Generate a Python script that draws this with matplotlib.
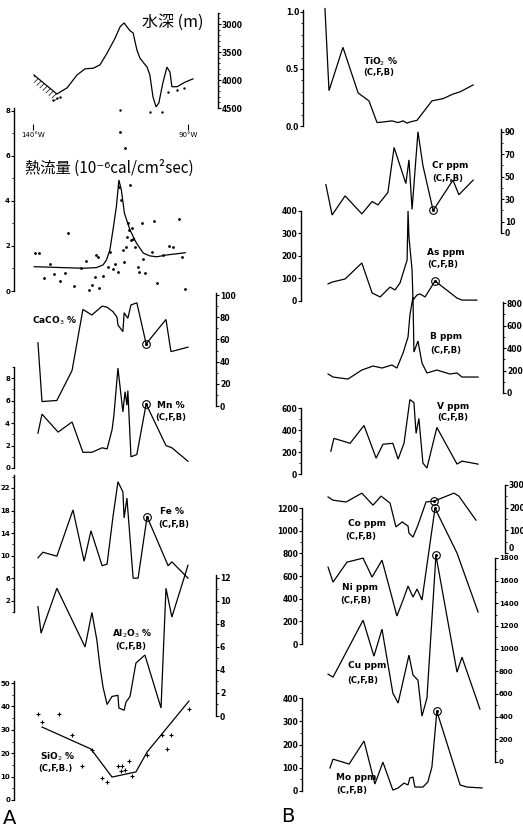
import matplotlib
matplotlib.use("Agg")
import matplotlib.pyplot as plt
from matplotlib.ticker import FixedLocator

plt.rcParams["font.family"] = ["DejaVu Sans"]
plt.rcParams["hatch.linewidth"] = 0.5

# ---- left column (A) : longitude in degrees W ----
depth_lon = [139.7, 132.3, 129.0, 125.8, 123.2, 120.6, 118.4, 116.1, 113.5, 111.9, 110.6, 109.7, 108.7, 107.7,
             106.5, 105.5, 103.2, 102.3, 101.3, 100.3, 99.4, 98.1, 96.8, 95.8, 95.2, 93.5, 91.0, 88.4]
depth_m = [3910, 4250, 4140, 3910, 3800, 3790, 3730, 3520, 3250, 3050, 2980, 3050, 3120, 3160,
           3460, 3610, 3770, 3910, 4300, 4480, 4410, 4050, 3770, 3860, 4120, 4120, 4040, 3980]
sound_lon = [133.5, 132.3, 131.3, 111.9, 102.3, 98.5, 96.4, 93.5, 91.3]
sound_m = [4360, 4320, 4300, 4540, 4570, 4570, 4210, 4180, 4140]

hf_curve_lon = [139.6, 123.8, 119.5, 117.4, 116.3, 115.2, 114.2, 113.1, 112.3, 111.5, 110.5, 108.7,
                106.6, 104.4, 102.3, 100.1, 96.9, 90.9]
hf_curve = [1.08, 1.01, 1.04, 1.16, 1.38, 1.82, 2.71, 3.75, 4.93, 4.49, 3.45, 2.71,
            2.12, 1.68, 1.56, 1.52, 1.60, 1.70]
hf_obs_lon = [139.4, 138.0, 136.4, 134.5, 133.2, 131.3, 129.7, 128.6, 126.7, 124.5, 122.9, 121.8, 121.1,
              120.0, 119.7, 119.1, 118.6, 117.5, 115.9, 115.2, 114.3, 113.5, 112.5, 112.2, 111.7, 110.9,
              110.6, 110.3, 110.0, 109.7, 109.3, 108.9, 108.7, 108.5, 108.2, 107.6, 107.1, 106.0, 105.7,
              104.9, 104.4, 103.9, 101.7, 100.9, 100.1, 98.0, 96.0, 94.7, 92.8, 92.0, 90.9, 111.9]
hf_obs = [1.68, 1.70, 0.59, 1.19, 0.74, 0.46, 0.81, 2.59, 0.22, 1.04, 1.35, 0.04, 0.27,
          0.64, 1.60, 1.50, 0.15, 0.68, 1.05, 1.75, 0.96, 1.19, 0.83, 4.64, 4.04, 1.82,
          1.30, 6.34, 1.97, 2.41, 3.01, 2.71, 4.71, 2.27, 2.79, 2.30, 1.97, 1.08, 0.86,
          3.01, 1.41, 0.79, 1.75, 3.11, 0.34, 1.60, 2.00, 1.97, 3.19, 1.52, 0.08, 7.08]

caco3_lon = [138.4, 137.1, 132.3, 127.4, 123.9, 121.0, 117.7, 116.1, 114.2, 112.9, 112.6, 111.0, 110.6,
             109.4, 108.4, 106.5, 103.5, 97.1, 95.5, 90.0]
caco3 = [57, 4, 5, 32, 87, 82, 90, 89, 85, 80, 73, 67, 84, 79, 91, 93, 56, 78, 49, 53]

mn_lon = [138.4, 137.1, 131.9, 127.4, 123.9, 121.0, 117.7, 116.1, 114.5, 113.9, 112.6, 111.0, 110.3,
          109.7, 109.4, 108.4, 106.5, 103.5, 97.1, 95.2, 90.0]
mn = [3.1, 4.8, 3.2, 4.1, 1.4, 1.4, 1.8, 1.7, 3.4, 4.7, 8.9, 5.0, 6.8, 5.6, 6.9, 1.0, 1.2, 5.7, 2.0, 1.8, 0.6]

fe_lon = [138.4, 136.8, 132.3, 127.1, 123.5, 121.3, 117.7, 116.1, 114.2, 112.6, 111.0, 110.6, 109.7,
          107.7, 106.1, 103.2, 96.4, 95.2, 90.0]
fe = [9.6, 10.6, 9.9, 18.1, 9.0, 14.4, 8.2, 8.5, 16.9, 23.1, 21.3, 16.7, 20.2, 6.0, 6.0, 16.9, 8.2, 8.9, 6.0]

al_lon = [138.4, 137.4, 132.3, 123.2, 121.0, 119.4, 118.4, 117.4, 116.1, 114.5, 112.6, 112.3, 110.6,
          110.0, 108.7, 106.8, 103.9, 98.7, 97.1, 95.2, 90.0]
al2o3 = [9.5, 7.2, 11.1, 6.0, 9.0, 6.6, 4.3, 2.5, 1.0, 1.7, 1.8, 0.7, 0.5, 1.2, 1.7, 4.6, 5.3, 0.7, 11.1, 8.6, 13.1]

sio2_trend_lon = [137.1, 121.3, 114.5, 106.8, 103.2, 89.7]
sio2_trend = [31.2, 21.8, 9.8, 12.0, 20.5, 42.3]
sio2_obs_lon = [138.4, 137.1, 131.6, 127.4, 124.2, 121.0, 117.7, 116.1, 112.6, 111.6, 111.3, 110.3,
                109.0, 108.1, 103.2, 98.4, 96.8, 95.5, 89.7]
sio2_obs = [36.8, 33.3, 36.8, 27.8, 14.5, 21.4, 9.4, 7.7, 14.5, 12.4, 14.5, 12.8, 16.7, 10.3, 19.2,
            27.8, 21.8, 27.8, 38.9]

# ---- right column (B) ----
tio2_lon = [138.4, 137.1, 132.6, 127.7, 124.2, 121.6, 119.7, 116.8, 114.8, 113.2, 111.9, 111.0, 108.7,
            103.9, 100.3, 97.1, 94.8, 90.6]
tio2 = [1.03, 0.31, 0.69, 0.29, 0.22, 0.03, 0.035, 0.045, 0.03, 0.045, 0.025, 0.035, 0.05, 0.22, 0.24,
        0.28, 0.30, 0.36]

cr_lon = [138.1, 136.1, 131.9, 126.5, 123.2, 121.3, 118.1, 116.1, 112.3, 111.3, 110.3, 108.4, 106.8,
          103.5, 97.1, 95.2, 90.6]
cr = [43, 16, 33, 17, 28, 25, 36, 76, 44, 65, 21, 90, 60, 20, 47, 34, 47]

as_lon = [137.4, 136.1, 131.9, 126.5, 123.2, 120.6, 117.4, 115.8, 114.2, 112.9, 111.9, 111.6, 111.3,
          110.3, 110.0, 108.7, 107.7, 106.1, 102.9, 95.8, 94.2, 89.4]
as_ppm = [76, 84, 98, 169, 36, 18, 62, 49, 80, 138, 182, 400, 284, 138, 4, 27, 31, 18, 89, 13, 4, 4]

b_lon = [137.4, 135.8, 131.0, 126.5, 122.9, 120.0, 116.8, 115.2, 113.2, 111.6, 111.0, 110.0, 109.7,
         108.4, 107.1, 105.5, 102.3, 98.1, 95.8, 94.2, 89.0]
b_ppm = [169, 142, 124, 204, 240, 222, 249, 222, 356, 498, 693, 853, 364, 462, 267, 178, 204, 169, 178,
         142, 142]

v_lon = [136.5, 135.5, 130.3, 125.8, 121.9, 119.7, 116.5, 114.8, 112.9, 111.0, 109.7, 109.0, 108.1,
         106.8, 105.5, 102.3, 95.8, 94.2, 89.0]
v_ppm = [207, 324, 279, 441, 144, 270, 279, 135, 279, 676, 649, 369, 505, 99, 54, 423, 90, 117, 90]

co_lon = [137.4, 135.8, 131.6, 126.5, 122.9, 120.3, 117.4, 115.5, 113.5, 111.6, 111.3, 110.0, 108.4,
          105.8, 103.2, 96.8, 95.2, 89.7]
co_ppm = [247, 233, 225, 264, 211, 251, 220, 115, 137, 119, 88, 70, 123, 225, 229, 264, 251, 145]

ni_lon = [137.4, 135.8, 131.3, 126.1, 123.2, 120.0, 116.8, 115.2, 113.2, 111.6, 110.0, 108.7, 107.1,
          102.9, 95.8, 89.0]
ni_ppm = [678, 546, 722, 758, 590, 740, 414, 247, 388, 511, 414, 485, 388, 1198, 802, 282]

cu_lon = [137.4, 135.8, 126.1, 122.6, 120.0, 116.5, 114.8, 111.3, 110.0, 108.4, 107.1, 105.5, 102.6,
          95.8, 94.2, 88.4]
cu_ppm = [775, 749, 1251, 934, 1172, 608, 520, 943, 767, 722, 405, 564, 1824, 793, 925, 467]

mo_lon = [136.8, 135.8, 130.6, 125.8, 122.3, 119.7, 116.5, 114.8, 112.9, 111.6, 111.0, 110.0, 109.4,
          106.8, 105.2, 103.9, 102.3, 94.8, 92.6, 87.7]
mo_ppm = [99, 137, 116, 215, 30, 124, 4, 13, 34, 26, 56, 60, 17, 17, 39, 103, 343, 26, 17, 13]

FIG_W, FIG_H = 523, 826
fig = plt.figure(figsize=(FIG_W / 100, FIG_H / 100), dpi=100)


def lon_at(px, col):
    origin = 33 if col == 0 else 320
    return 140 - (px - origin) * 0.3226


def panel(col, x0, x1, ytop, ybot, ylim, side, major, minor=None, fmt=None, size=5.5):
    ax = fig.add_axes([x0 / FIG_W, 1 - ybot / FIG_H, (x1 - x0) / FIG_W, (ybot - ytop) / FIG_H])
    ax.set_xlim(lon_at(x0, col), lon_at(x1, col))
    ax.set_ylim(*ylim)
    ax.patch.set_visible(False)
    for s in ["top", "bottom", "left", "right"]:
        ax.spines[s].set_visible(s == side)
    ax.spines[side].set_linewidth(1.0)
    ax.set_xticks([])
    ax.yaxis.set_ticks_position(side)
    ax.yaxis.set_major_locator(FixedLocator(major))
    if minor is not None:
        ax.yaxis.set_minor_locator(FixedLocator(minor))
    if fmt is not None:
        ax.set_yticklabels(fmt)
    ax.tick_params(axis="y", which="major", length=2.0, width=0.8, labelsize=size, pad=0.8)
    ax.tick_params(axis="y", which="minor", length=1.4, width=0.6)
    for lbl in ax.get_yticklabels():
        lbl.set_fontweight("bold")
    return ax


def line(ax, x, y):
    ax.plot(x, y, color="black", lw=0.9, clip_on=False, solid_joinstyle="miter")


def ring(ax, x, y):
    ax.plot(x, y, marker="o", ms=5.5, mfc="none", mec="black", mew=0.8, clip_on=False)
    ax.plot(x, y, marker="o", ms=1.2, color="black", clip_on=False)


def ftext(x, y, s, **kw):
    fig.text(x / FIG_W, 1 - y / FIG_H, s, va="center", **kw)


def rng(a, b, step):
    out = []
    v = a
    while v <= b + 1e-9:
        out.append(round(v, 4))
        v += step
    return out


# water depth
ax = panel(0, 30, 218, 12.8, 108, (4500, 2800), "right", [3000, 3500, 4000, 4500], rng(2800, 4500, 100))
line(ax, depth_lon, depth_m)
ax.fill_between(depth_lon[:2], depth_m[:2], [m + 150 for m in depth_m[:2]], facecolor="none",
                edgecolor="black", hatch="//////", lw=0)
ax.plot(sound_lon, sound_m, ".", ms=1.5, color="black", clip_on=False)
ax.spines["bottom"].set_position(("outward", 16))
ax.set_xticks([140, 90])
ax.set_xticklabels(["140°W", "90°W"])
ax.tick_params(axis="x", direction="in", length=4, width=0.8, labelsize=5, pad=1)

# heat flow
ax = panel(0, 14, 200, 108, 291, (0, 8.13), "left", [0, 2, 4, 6, 8], rng(0, 8, 1), size=5)
line(ax, hf_curve_lon, hf_curve)
ax.plot(hf_obs_lon, hf_obs, ".", ms=2, color="black", clip_on=False)

ax = panel(0, 30, 216, 292.8, 406, (0, 102), "right", rng(0, 100, 20), rng(0, 100, 10))
line(ax, caco3_lon, caco3)
ring(ax, caco3_lon[16], caco3[16])

ax = panel(0, 14, 200, 367, 468, (0, 9), "left", [0, 2, 4, 6, 8], rng(0, 9, 1), size=5)
line(ax, mn_lon, mn)
ring(ax, mn_lon[17], mn[17])

ax = panel(0, 14, 200, 475, 612, (0, 24.3), "left", [2, 6, 10, 14, 18, 22], rng(0, 24, 4), size=5)
line(ax, fe_lon, fe)
ring(ax, fe_lon[15], fe[15])

ax = panel(0, 30, 216, 574.5, 716, (0, 12.3), "right", rng(0, 12, 2), rng(0, 12, 1))
line(ax, al_lon, al2o3)

ax = panel(0, 14, 200, 680.7, 800, (0, 51), "left", rng(0, 50, 10), rng(0, 50, 5), size=5)
line(ax, sio2_trend_lon, sio2_trend)
ax.plot(sio2_obs_lon, sio2_obs, "+", ms=3, mew=0.8, color="black", clip_on=False)

# right column
ax = panel(1, 303, 490, 9.7, 126, (0, 1.02), "left", [0, 0.5, 1.0], rng(0, 1.0, 0.1), ["0.0", "0.5", "1.0"])
line(ax, tio2_lon, tio2)

ax = panel(1, 310, 501, 129.5, 233, (0, 92), "right", [0, 10, 30, 50, 70, 90], [20, 40, 60, 80])
line(ax, cr_lon, cr)
ring(ax, cr_lon[13], cr[13])

ax = panel(1, 301, 490, 211, 301, (0, 400), "left", rng(0, 400, 100))
line(ax, as_lon, as_ppm)
ring(ax, as_lon[18], as_ppm[18])

ax = panel(1, 310, 503, 301.9, 393, (0, 810), "right", rng(0, 800, 200), rng(0, 800, 100))
line(ax, b_lon, b_ppm)

ax = panel(1, 301, 490, 408, 474, (0, 600), "left", rng(0, 600, 200), rng(0, 600, 100))
line(ax, v_lon, v_ppm)

ax = panel(1, 310, 505, 485, 553, (0, 300), "right", rng(0, 300, 100), rng(0, 300, 50))
line(ax, co_lon, co_ppm)
ring(ax, co_lon[14], co_ppm[14])
ax.get_yticklabels()[0].set_va("bottom")

ax = panel(1, 302, 490, 508, 644, (0, 1200), "left", rng(0, 1200, 200), rng(0, 1200, 100))
line(ax, ni_lon, ni_ppm)
ring(ax, ni_lon[13], ni_ppm[13])

ax = panel(1, 310, 495, 558, 762, (0, 1800), "right", rng(0, 1800, 200), rng(0, 1800, 100), size=5)
line(ax, cu_lon, cu_ppm)
ring(ax, cu_lon[12], cu_ppm[12])

ax = panel(1, 302, 490, 698, 791, (0, 400), "left", rng(0, 400, 100), rng(0, 400, 50))
line(ax, mo_lon, mo_ppm)
ring(ax, mo_lon[16], mo_ppm[16])

# labels
cjk = ["Noto Sans CJK JP", "DejaVu Sans"]
ftext(142, 22, "水深 (m)", family=cjk, fontsize=11.5)
ftext(25, 168, "熱流量 (10⁻⁶cal/cm²sec)", family=cjk, fontsize=11)

lab = dict(fontsize=6.5, fontweight="bold")
sub = dict(fontsize=6, fontweight="bold")
ftext(32, 321, "CaCO$_3$ %", **lab)
ftext(157, 405, "Mn %", **lab)
ftext(155, 417, "(C,F,B)", **sub)
ftext(160, 512, "Fe %", **lab)
ftext(158, 524, "(C,F,B)", **sub)
ftext(112, 634, "Al$_2$O$_3$ %", **lab)
ftext(115, 646, "(C,F,B)", **sub)
ftext(40, 757, "SiO$_2$ %", **lab)
ftext(38, 768, "(C,F,B.)", **sub)

ftext(363, 62, "TiO$_2$ %", **lab)
ftext(363, 73, "(C,F,B)", **sub)
ftext(432, 165, "Cr ppm", **lab)
ftext(432, 178, "(C,F,B)", **sub)
ftext(427, 252, "As ppm", **lab)
ftext(427, 265, "(C,F,B)", **sub)
ftext(430, 337, "B ppm", **lab)
ftext(430, 350, "(C,F,B)", **sub)
ftext(437, 407, "V ppm", **lab)
ftext(437, 418, "(C,F,B)", **sub)
ftext(348, 523, "Co ppm", **lab)
ftext(345, 536, "(C,F,B)", **sub)
ftext(342, 588, "Ni ppm", **lab)
ftext(340, 601, "(C,F,B)", **sub)
ftext(348, 666, "Cu ppm", **lab)
ftext(347, 680, "(C,F,B)", **sub)
ftext(336, 778, "Mo ppm", **lab)
ftext(336, 791, "(C,F,B)", **sub)

ftext(3, 818, "A", fontsize=14)
ftext(281, 817, "B", fontsize=14)

fig.savefig("out.png", dpi=100, facecolor="white")
